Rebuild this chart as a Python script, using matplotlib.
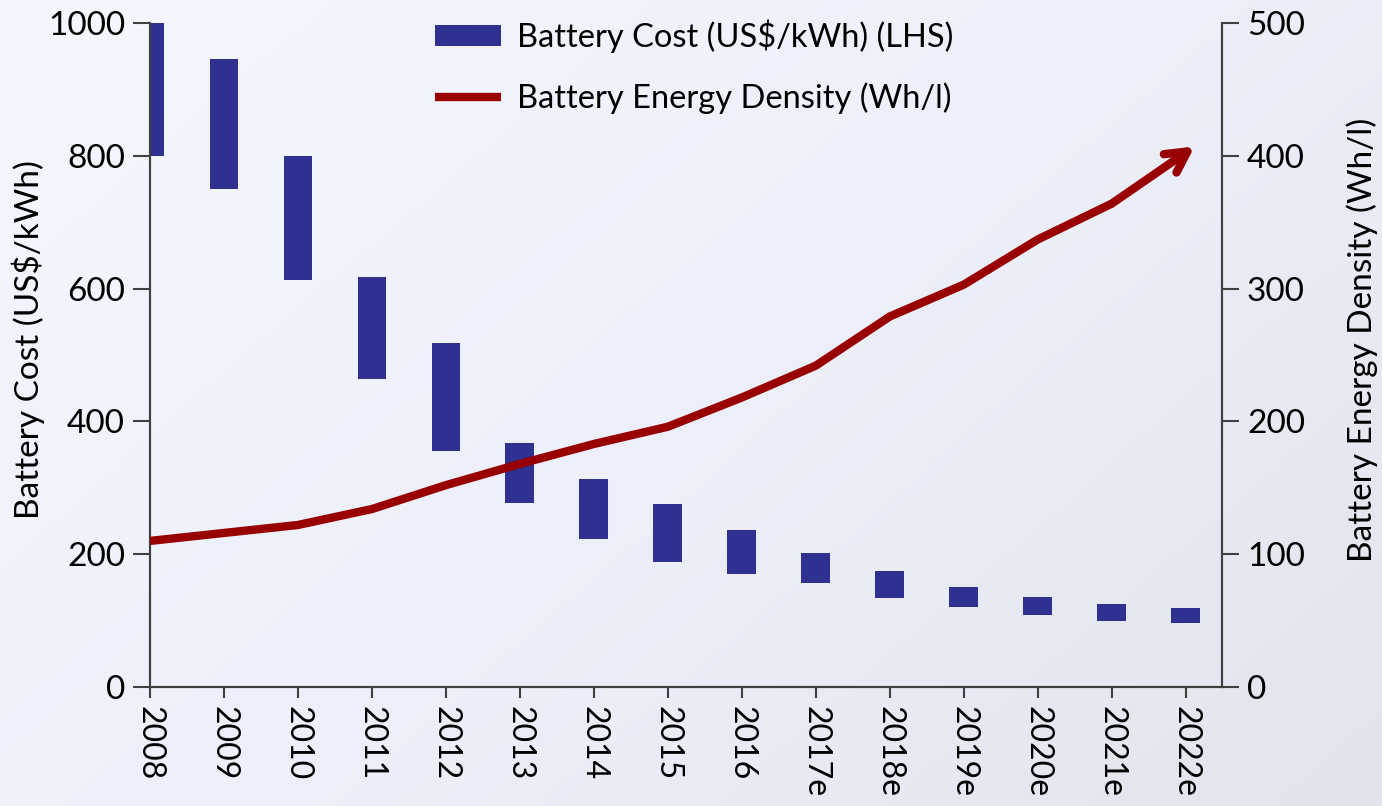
import numpy as np
import matplotlib
matplotlib.use("Agg")
import matplotlib.pyplot as plt
from matplotlib.colors import LinearSegmentedColormap

years = ["2008", "2009", "2010", "2011", "2012", "2013", "2014", "2015",
         "2016", "2017e", "2018e", "2019e", "2020e", "2021e", "2022e"]
cost_low = [800, 750, 613, 464, 355, 277, 223, 188, 170, 157, 134, 120, 108, 99, 96]
cost_high = [1000, 946, 800, 617, 518, 367, 313, 276, 236, 202, 175, 151, 136, 125, 119]
density = [110, 116, 122, 134, 152, 168, 183, 196, 218, 242, 279, 303, 337, 364, 405]

bar_color = "#2E3192"
line_color = "#990000"


def main():
    plt.rcParams["font.family"] = ["Lato", "DejaVu Sans"]
    fig = plt.figure(figsize=(13.82, 8.06), dpi=100)

    # soft background gradient
    bg = fig.add_axes([0, 0, 1, 1], zorder=-10)
    gx, gy = np.meshgrid(np.linspace(0, 1, 300), np.linspace(0, 1, 200))
    grad = 0.6 * gx + 0.4 * gy
    cmap = LinearSegmentedColormap.from_list("bg", ["#F4F7FE", "#EDF0FA", "#E2E4EC"])
    bg.imshow(grad, cmap=cmap, aspect="auto", extent=[0, 1, 0, 1], origin="upper")
    bg.axis("off")

    ax = fig.add_axes([150 / 1382, 1 - 687 / 806, 1072 / 1382, 664 / 806])
    ax.patch.set_visible(False)
    x = np.arange(len(years))
    heights = [h - l for h, l in zip(cost_high, cost_low)]
    bars = ax.bar(x, heights, bottom=cost_low, width=0.39, color=bar_color,
                  label="Battery Cost (US$/kWh) (LHS)", zorder=2)

    ax.set_xlim(0, 14.49)
    ax.set_ylim(0, 1000)
    ax.set_yticks(range(0, 1001, 200))
    ax.set_xticks(x)
    ax.set_xticklabels(years, rotation=-90, va="top", ha="center")
    ax.set_ylabel("Battery Cost (US$/kWh)", fontsize=24, labelpad=2)
    ax.yaxis.label.set_y(0.523)

    ax2 = ax.twinx()
    ax2.set_ylim(0, 500)
    ax2.set_yticks(range(0, 501, 100))
    line, = ax2.plot(x[:-1], density[:-1], color=line_color, lw=6,
                     solid_capstyle="butt", solid_joinstyle="round", zorder=3,
                     label="Battery Energy Density (Wh/l)")
    ax2.annotate("", xy=(x[-1] + 0.12, density[-1] + 2), xytext=(x[-2], density[-2]),
                 arrowprops=dict(arrowstyle="->,head_length=1.5,head_width=0.8",
                                 color=line_color, lw=6, shrinkA=0, shrinkB=0))
    ax2.set_ylabel("Battery Energy Density (Wh/l)", fontsize=24, labelpad=30)
    ax2.yaxis.label.set_y(0.523)

    for a in (ax, ax2):
        a.spines["top"].set_visible(False)
        for s in a.spines.values():
            s.set_color("#404040")
            s.set_linewidth(1.5)
        a.tick_params(axis="y", length=12, width=1.5, color="#404040",
                      labelsize=24, pad=6)
    ax.tick_params(axis="x", length=8, width=1.5, color="#404040",
                   labelsize=23, pad=6)

    fig.legend([bars, line], [bars.get_label(), line.get_label()],
               loc="upper left", bbox_to_anchor=(406 / 1382, 1.012),
               frameon=False, fontsize=23.5, handlelength=2.0,
               handleheight=0.6, handletextpad=0.5, labelspacing=0.9)

    plt.savefig("out.png", dpi=100)


if __name__ == "__main__":
    main()
